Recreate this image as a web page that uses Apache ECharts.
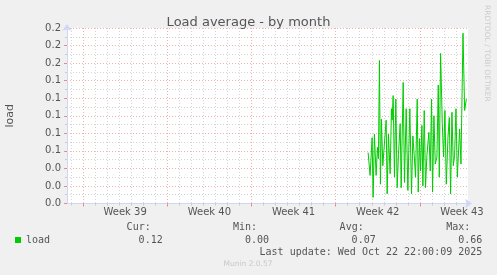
<!DOCTYPE html>
<html><head><meta charset="utf-8">
<script src="https://cdn.jsdelivr.net/npm/echarts@6/dist/echarts.min.js"></script>
<style>html,body{margin:0;padding:0;background:#f0f0f0;}#c{width:497px;height:275px;}</style>
</head><body><div id="c"></div>
<script>
// hours from the left edge of the plot (plot spans 0..800 h)
const loadHours = [600.7,604.7,608.7,610.7,613.3,616.7,619.3,621.3,623.3,625.3,627.3,630,633.3,636.7,638.7,641.3,644.7,647.3,648.7,650.7,653.3,656,658.7,661.3,664.7,666.7,670.7,673.3,676.7,680,684,687.3,690,692.7,695.3,698.7,700.7,703.3,705.3,708,710,712.7,715.3,718,722,724.7,727.3,729.3,732,734.7,738,740.7,742.7,745.3,748.7,751.3,754,756.7,760,762.7,765.3,768,770.7,773.3,776,778.7,783.3,786,790,793.3,796.7];
const loadValues = [0.058,0.032,0.075,0.007,0.079,0.032,0.064,0.051,0.163,0.022,0.096,0.043,0.041,0.095,0.011,0.079,0.034,0.108,0.095,0.123,0.030,0.119,0.018,0.056,0.091,0.018,0.138,0.024,0.108,0.015,0.108,0.011,0.077,0.055,0.030,0.119,0.013,0.074,0.037,0.089,0.020,0.106,0.018,0.055,0.081,0.037,0.119,0.013,0.100,0.045,0.053,0.135,0.030,0.171,0.091,0.053,0.106,0.022,0.075,0.098,0.011,0.104,0.043,0.055,0.108,0.030,0.085,0.045,0.194,0.106,0.119];
const dayLines = [8,32,56,80,104,128,152,176,200,224,248,272,296,320,344,368,392,416,440,464,488,512,536,560,584,608,632,656,680,704,728,752,776];
const weekStarts = [32,200,368,536,704];
const weekMids = [116,284,452,620,788];
const weekNames = ['Week 39','Week 40','Week 41','Week 42','Week 43'];
const statLabels = ['Cur:','Min:','Avg:','Max:'];
const statValues = ['0.12','0.00','0.07','0.66'];
const lastUpdate = 'Last update: Wed Oct 22 22:00:09 2025';
const titleText = 'Load average - by month';
const seriesName = 'load';

const chart = echarts.init(document.getElementById('c'), null, {renderer:'canvas'});
const pink = '#f0b0b0', gray = '#d4d4d4', axisCol = '#cfd6f8', txt = '#555';
const mono = 'DejaVu Sans Mono';
const statRight = [162.7, 269, 375.7, 482.3];
const graphics = [];
statLabels.forEach((l,i)=>{
  graphics.push({type:'text', x:statRight[i]-12, y:227.5, style:{text:l, font:'10px '+mono, fill:txt, align:'right', verticalAlign:'middle'}});
  graphics.push({type:'text', x:statRight[i], y:240, style:{text:statValues[i], font:'10px '+mono, fill:txt, align:'right', verticalAlign:'middle'}});
});
graphics.push({type:'text', x:482.3, y:252, style:{text:lastUpdate, font:'10px '+mono, fill:txt, align:'right', verticalAlign:'middle'}});
graphics.push({type:'text', x:248, y:264, style:{text:'Munin 2.0.57', font:'7.5px DejaVu Sans', fill:'#c8c8c8', align:'center', verticalAlign:'middle'}});
graphics.push({type:'text', x:487, y:5, rotation:-Math.PI/2, style:{text:'RRDTOOL / TOBI OETIKER', font:'7.5px DejaVu Sans', fill:'#cccccc', align:'left', verticalAlign:'middle'}});

chart.setOption({
  backgroundColor:'#f0f0f0',
  animation:false,
  title:{text:titleText, left:'center', top:11, textStyle:{fontFamily:'DejaVu Sans', fontSize:13, fontWeight:'normal', color:txt}},
  legend:{data:[seriesName], left:15, top:234, padding:0, icon:'rect', itemWidth:6, itemHeight:6, textStyle:{fontFamily:mono, fontSize:10, color:txt, lineHeight:12}},
  grid:{left:67, top:28, right:29, bottom:71.5, show:true, backgroundColor:'#ffffff', borderWidth:0, containLabel:false, outerBoundsMode:'none'},
  xAxis:[{
    type:'value', min:0, max:800,
    axisLine:{show:true, lineStyle:{color:axisCol}, symbol:['none','arrow'], symbolSize:[7,7], symbolOffset:[0,4]},
    axisTick:{show:true, customValues:dayLines, length:2, lineStyle:{color:'#cccccc'}},
    axisLabel:{show:false},
    splitLine:{show:true, lineStyle:{color:gray, type:[1,2], width:1}}
  },{
    type:'value', min:0, max:800, position:'bottom',
    axisLine:{show:false},
    axisTick:{show:true, customValues:weekStarts, length:3, lineStyle:{color:'#e88'}},
    axisLabel:{show:true, customValues:weekMids, margin:4, fontFamily:'DejaVu Sans', fontSize:10, color:txt,
      formatter:(v)=>{const i=weekMids.indexOf(v); return i>=0?weekNames[i]:'';}},
    splitLine:{show:true, lineStyle:{color:pink, type:[1,2], width:1}}
  }],
  yAxis:{
    type:'value', min:0, max:0.2, interval:0.02,
    name:seriesName, nameLocation:'middle', nameRotate:90, nameGap:51,
    nameTextStyle:{fontFamily:'DejaVu Sans', fontSize:11, color:txt},
    axisLine:{show:true, lineStyle:{color:axisCol}, symbol:['none','arrow'], symbolSize:[7,7], symbolOffset:[0,4]},
    axisTick:{show:true, length:3, lineStyle:{color:'#e88'}},
    minorTick:{show:true, splitNumber:2, length:2, lineStyle:{color:'#cccccc'}},
    axisLabel:{margin:6, fontFamily:'DejaVu Sans', fontSize:10, color:txt, formatter:(v)=>v.toFixed(1)},
    splitLine:{show:true, lineStyle:{color:pink, type:[1,2], width:1}},
    minorSplitLine:{show:true, lineStyle:{color:gray, type:[1,2], width:1}}
  },
  series:[{
    name:seriesName, type:'line', xAxisIndex:0, showSymbol:false, symbol:'none',
    lineStyle:{color:'#00cc00', width:1}, itemStyle:{color:'#00cc00'},
    data:loadHours.map((h,i)=>[h, loadValues[i]])
  }],
  graphic:graphics
});
</script></body></html>
